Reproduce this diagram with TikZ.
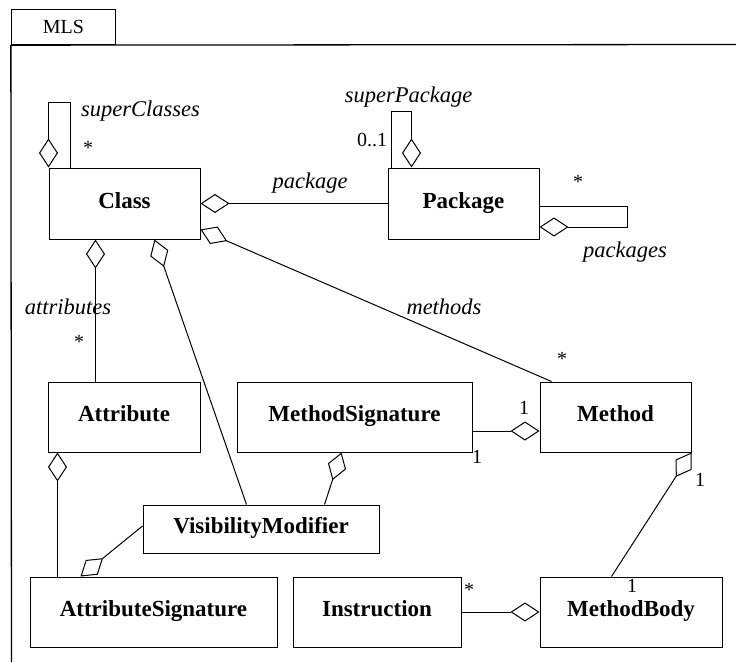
\documentclass[tikz,border=0pt]{standalone}
\usepackage{fontspec}
\setmainfont{Liberation Serif}
\usetikzlibrary{arrows.meta,calc}
\begin{document}
\begin{tikzpicture}[x=1pt,y=-1pt,
  cls/.style={draw, line width=1pt, font=\fontsize{23}{25}\selectfont\bfseries, text height=15pt, text depth=6pt, inner sep=0pt},
  role/.style={font=\fontsize{22.5}{24}\selectfont\itshape, inner sep=0pt},
  mult/.style={font=\fontsize{20}{22}\selectfont, inner sep=0pt},
  conn/.style={line width=1pt},
  framel/.style={line width=1.3pt},
  agg/.style={conn, {Diamond[open,length=29pt,width=19pt]}-},
  gga/.style={conn, -{Diamond[open,length=29pt,width=19pt]}},
]
\useasboundingbox (0,0) rectangle (736,662);
% frame
\node[draw, framel, minimum width=104pt, minimum height=35pt, inner sep=0pt, font=\fontsize{20}{22}\selectfont] (tab) at (63.5,27) {MLS};
\coordinate (fr) at (736,44.5);
\coordinate (fb) at (11.5,662);
\draw[framel] (tab.south west) -- (fr);
\draw[framel] (tab.south west) -- (fb);
% classes
\node[cls, minimum width=151pt, minimum height=71pt] (class) at (124.5,203.5) {Class};
\node[cls, minimum width=151pt, minimum height=71pt] (package) at (463.5,203.5) {Package};
\node[cls, minimum width=152pt, minimum height=70pt] (attribute) at (124,417) {Attribute};
\node[cls, minimum width=235pt, minimum height=70pt] (msig) at (354.5,417) {MethodSignature};
\node[cls, minimum width=151pt, minimum height=70pt] (method) at (615.5,417) {Method};
\node[cls, minimum width=236pt, minimum height=48pt] (vis) at (261,529) {VisibilityModifier};
\node[cls, minimum width=247pt, minimum height=70pt] (asig) at (153.5,612) {AttributeSignature};
\node[cls, minimum width=168pt, minimum height=70pt] (instr) at (377,612) {Instruction};
\node[cls, minimum width=182pt, minimum height=70pt] (mbody) at (631,612) {MethodBody};
% superClasses loop
\draw[gga] ($(class.north west)+(22,0)$) -- ++(0,-65) -- ++(-22,0) -- (class.north west);
\node[role] (lsc) at (140.5,111) {superClasses};
\node[mult] (msc) at (88,148) {*};
% package
\draw[agg] (class.east) -- (package.west);
\node[role] (lpk) at (310,183) {package};
% superPackage loop
\draw[gga] ($(package.north west)+(4,0)$) -- ++(0,-56) -- ++(20,0) -- ($(package.north west)+(24,0)$);
\node[role] (lsp) at (408.5,97) {superPackage};
\node[mult] (msp) at (372,140) {0..1};
% packages loop
\draw[gga] ($(package.east)+(0,2.5)$) -- ++(88,0) -- ++(0,21) -- ($(package.east)+(0,23.5)$);
\node[mult] (mpk) at (578,182) {*};
\node[role] (lpks) at (625,252) {packages};
% methods
\draw[agg] ($(class.south east)+(0,-10)$) -- ($(method.north west)+(12,0)$);
\node[role] (lme) at (444,307) {methods};
\node[mult] (mme) at (562,359) {*};
% attributes
\draw[agg] ($(class.south west)+(47,0)$) -- ($(attribute.north west)+(48,0)$);
\node[role] (lat) at (68,307) {attributes};
\node[mult] (mat) at (79,342) {*};
% class - visibility
\draw[agg] ($(class.south west)+(106,0)$) -- ($(vis.north west)+(104,0)$);
% attribute - attributesignature
\draw[agg] ($(attribute.south west)+(10,0)$) -- ($(asig.north west)+(28,0)$);
% visibility - attributesignature
\draw[gga] ($(vis.west)+(0,-3)$) -- ($(asig.north west)+(51,0)$);
% methodsignature - visibility
\draw[agg] ($(msig.south west)+(105,0)$) -- ($(vis.north west)+(182,0)$);
% methodsignature - method
\draw[gga] ($(msig.east)+(0,14)$) -- ($(method.west)+(0,14)$);
\node[mult] (m1a) at (524,408) {1};
\node[mult] (m1b) at (477,457) {1};
% method - methodbody
\draw[agg] (method.south east) -- ($(mbody.north west)+(72,0)$);
\node[mult] (m1c) at (700,480) {1};
\node[mult] (m1d) at (632,586) {1};
% instruction - methodbody
\draw[gga] (instr.east) -- (mbody.west);
\node[mult] (min) at (469,590) {*};
\end{tikzpicture}
\end{document}
